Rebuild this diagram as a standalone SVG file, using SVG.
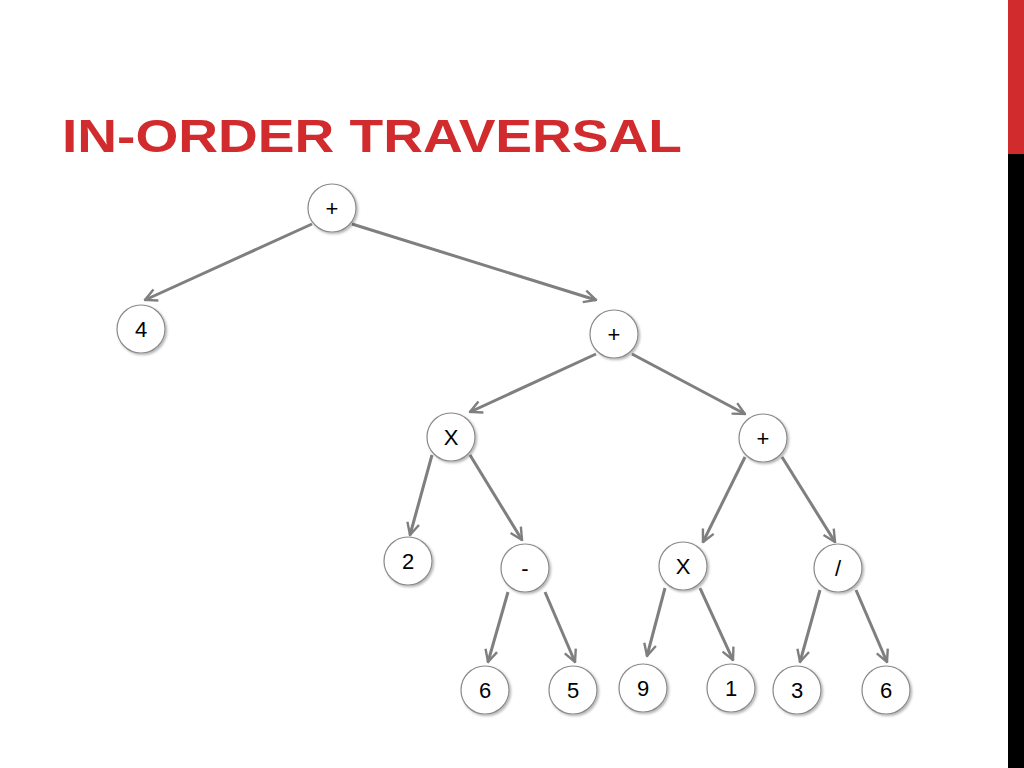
<svg xmlns="http://www.w3.org/2000/svg" width="1024" height="768" viewBox="0 0 1024 768">
<defs>
<marker id="ah" viewBox="0 0 10 10" refX="9" refY="5" markerWidth="5" markerHeight="5" orient="auto" markerUnits="strokeWidth"><path d="M1,1 L9,5 L1,9" fill="none" stroke="#7f7f7f" stroke-width="1.6"/></marker>
<filter id="sh" x="-30%" y="-30%" width="160%" height="160%"><feDropShadow dx="1.5" dy="1.5" stdDeviation="1.2" flood-color="#000" flood-opacity="0.3"/></filter>
</defs>
<style>
.e{stroke:#7f7f7f;stroke-width:3;fill:none;marker-end:url(#ah)}
.n circle{fill:#fff;stroke:#8a8a8a;stroke-width:1.2;filter:url(#sh)}
.n text{font-family:"Liberation Sans",Arial,sans-serif;font-size:22px;text-anchor:middle;fill:#000}
</style>
<rect width="1024" height="768" fill="#fff"/>
<rect x="1008" y="0" width="16" height="154" fill="#d12b2e"/>
<rect x="1008" y="154" width="16" height="614" fill="#000"/>
<text x="62" y="152" font-family="'Liberation Sans',Arial,sans-serif" font-weight="bold" font-size="46" fill="#d12b2e" textLength="620" lengthAdjust="spacingAndGlyphs">IN-ORDER TRAVERSAL</text>
<g id="edges">
<line class="e" x1="312" y1="224" x2="145" y2="300"/>
<line class="e" x1="352" y1="224" x2="596" y2="300"/>
<line class="e" x1="596" y1="354" x2="470" y2="412"/>
<line class="e" x1="632" y1="354" x2="745" y2="414"/>
<line class="e" x1="432" y1="455" x2="410" y2="535"/>
<line class="e" x1="470" y1="455" x2="522" y2="540"/>
<line class="e" x1="745" y1="457" x2="703" y2="542"/>
<line class="e" x1="782" y1="457" x2="835" y2="542"/>
<line class="e" x1="508" y1="592" x2="488" y2="662"/>
<line class="e" x1="545" y1="592" x2="575" y2="662"/>
<line class="e" x1="665" y1="588" x2="647" y2="656"/>
<line class="e" x1="700" y1="588" x2="733" y2="660"/>
<line class="e" x1="820" y1="590" x2="800" y2="662"/>
<line class="e" x1="856" y1="590" x2="887" y2="662"/>
</g>
<g id="n1" class="n"><circle cx="332" cy="208" r="24"/><text x="332" y="216">+</text></g>
<g id="n2" class="n"><circle cx="141" cy="329" r="24"/><text x="141" y="337">4</text></g>
<g id="n3" class="n"><circle cx="614" cy="334" r="24"/><text x="614" y="342">+</text></g>
<g id="n4" class="n"><circle cx="451" cy="437" r="24"/><text x="451" y="445">X</text></g>
<g id="n5" class="n"><circle cx="763" cy="438" r="24"/><text x="763" y="446">+</text></g>
<g id="n6" class="n"><circle cx="408" cy="561" r="24"/><text x="408" y="569">2</text></g>
<g id="n7" class="n"><circle cx="525" cy="568" r="24"/><text x="525" y="576">-</text></g>
<g id="n8" class="n"><circle cx="683" cy="566" r="24"/><text x="683" y="574">X</text></g>
<g id="n9" class="n"><circle cx="838" cy="568" r="24"/><text x="838" y="576">/</text></g>
<g id="n10" class="n"><circle cx="485" cy="690" r="24"/><text x="485" y="698">6</text></g>
<g id="n11" class="n"><circle cx="573" cy="690" r="24"/><text x="573" y="698">5</text></g>
<g id="n12" class="n"><circle cx="643" cy="688" r="24"/><text x="643" y="696">9</text></g>
<g id="n13" class="n"><circle cx="731" cy="688" r="24"/><text x="731" y="696">1</text></g>
<g id="n14" class="n"><circle cx="797" cy="690" r="24"/><text x="797" y="698">3</text></g>
<g id="n15" class="n"><circle cx="886" cy="690" r="24"/><text x="886" y="698">6</text></g>
</svg>
